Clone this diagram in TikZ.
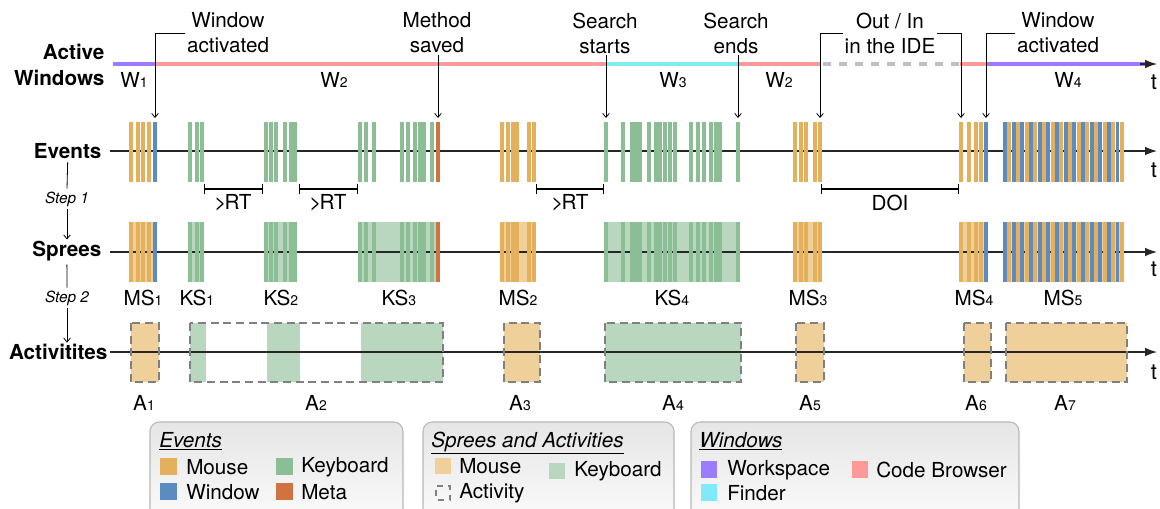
\documentclass[tikz,border=0pt]{standalone}
\usepackage{fontspec}
\setmainfont{TeX Gyre Heros}
\usetikzlibrary{arrows.meta}
\definecolor{mo}{HTML}{E5B05C}
\definecolor{kb}{HTML}{8BBE94}
\definecolor{wi}{HTML}{5B8BC0}
\definecolor{me}{HTML}{CF7340}
\definecolor{lmo}{HTML}{EFD09B}
\definecolor{lkb}{HTML}{B8D7BE}
\definecolor{ws}{HTML}{9B7BFF}
\definecolor{cb}{HTML}{FF9999}
\definecolor{fi}{HTML}{80EAF8}
\definecolor{gd}{HTML}{808080}
\newcommand\sbd[1]{{\fontsize{10.5}{10.5}\selectfont #1}}
\newcommand\grt{>\kern-1.5pt RT}
\def\evlist{129/4/mo,136/4/mo,141/4/mo,147/4/mo,153/4/wi,%
188/4/kb,195/4/kb,200/4/kb,%
264/4/kb,269/4/kb,274/4/kb,283/4/kb,289/8/kb,%
358/4/kb,364/4/kb,372/4/kb,%
400/4/kb,406/4/kb,413/4/kb,418/8/kb,430/4/kb,436/4/me,%
500/4/mo,506/4/mo,511/8/mo,527/4/mo,532/4/mo,%
604/4/kb,621/4/kb,630/12/kb,647/4/kb,654/8/kb,663/4/kb,668/4/kb,673/4/kb,689/4/kb,696/4/kb,702/4/kb,709/4/kb,714/8/kb,736/4/kb,%
793/4/mo,799/4/mo,804/4/mo,813/4/mo,818/4/mo,%
959/4/mo,967/4/mo,974/4/mo,979/4/mo,984/4/wi}
\newcommand\drawbars[1]{%
  \foreach \x/\w/\c in \evlist {\fill[\c] (\x,#1) rectangle ++(\w,60);}%
  \foreach \i in {0,...,27} {\pgfmathsetmacro\xx{1003+4.33*\i}%
    \ifodd\i \def\cc{mo}\else\def\cc{wi}\fi
    \fill[\cc] (\xx,#1) rectangle ++(3.9,60);}%
}
\begin{document}
\begin{tikzpicture}[x=0.75pt,y=-0.75pt,
  every node/.style={inner sep=1pt, font=\fontsize{15.5}{18.75}\selectfont},
  lab/.style={font=\fontsize{15.5}{19.5}\selectfont\bfseries, align=right},
  ann/.style={align=center},
  steplab/.style={font=\fontsize{11.5}{12}\selectfont\itshape, inner sep=2pt},
  axis/.style={line width=0.9pt, draw=black!85, -{Latex[length=9pt,width=6.5pt]}},
  conn/.style={line width=0.6pt, -{Straight Barb[length=3pt,width=5pt]}},
  brk/.style={line width=0.8pt, {Bar[width=7pt]}-{Bar[width=7pt]}},
  wline/.style={line width=3pt},
  act/.style={draw=gd, dash pattern=on 6pt off 3.5pt, line width=1.6pt},
  legbox/.style={draw=black!28, line width=0.8pt, rounded corners=7pt, top color=black!10, bottom color=white},
  sw/.style={minimum size=12.5pt, inner sep=0pt},
  tl/.style={font=\fontsize{16.5}{16.5}\selectfont},
  ltxt/.style={anchor=west, inner sep=0pt}
]
\useasboundingbox (0,0) rectangle (1160,508);
\clip (0,0) rectangle (1160,508);

% ---------- left labels ----------
\node[lab, anchor=east] (awl) at (106,65) {Active\\Windows};
\node[lab, anchor=east] (evl) at (103,151) {Events};
\node[lab, anchor=east] (spl) at (103,251) {Sprees};
\node[lab, anchor=east] (acl) at (109,352) {Activitites};
\node[steplab] (st1) at (67,199) {Step 1};
\node[steplab] (st2) at (67,298) {Step 2};
\draw[line width=0.6pt] (evl.south) ++(0,2) coordinate (e0) (e0) -- (st1.north);
\draw[conn] (st1.south) -- (st1.south |- spl.north);
\draw[line width=0.6pt] (spl.south) ++(0,2) coordinate (s0) (s0) -- (st2.north);
\draw[conn] (st2.south) -- (st2.south |- acl.north);

% ---------- active windows ----------
\draw[wline, ws] (113,64) -- (155,64);
\draw[wline, cb] (155,64) -- (606,64);
\draw[wline, fi] (606,64) -- (738,64);
\draw[wline, cb] (738,64) -- (821,64);
\draw[wline, black!25, dash pattern=on 6pt off 6pt] (823,64) -- (960,64);
\draw[wline, cb] (960,64) -- (986,64);
\draw[wline, ws] (986,64) -- (1146,64);
\draw[axis] (1140,64) -- (1157,64);
\node (w1) at (134,80) {W\sbd{1}};
\node (w2) at (334,80) {W\sbd{2}};
\node (w3) at (673,80) {W\sbd{3}};
\node (w2b) at (779,80) {W\sbd{2}};
\node (w4) at (1068,80) {W\sbd{4}};
\node[tl] (t0) at (1154,82) {t};

% ---------- annotations ----------
\node[ann] (a1) at (228,33) {Window\\activated};
\node[ann] (a2) at (437,33) {Method\\saved};
\node[ann] (a3) at (605,33) {Search\\starts};
\node[ann] (a4) at (736,33) {Search\\ends};
\node[ann] (a5) at (890,33) {Out / In\\in the IDE};
\node[ann] (a6) at (1058,33) {Window\\activated};
\coordinate (e1) at (155,118);
\coordinate (e2) at (438,118);
\coordinate (e3) at (606,118);
\coordinate (e4) at (738,118);
\coordinate (e5) at (820,118);
\coordinate (e6) at (961,118);
\coordinate (e7) at (986,118);
\draw[conn] (a1.west) -| (e1);
\draw[conn] (a2.south -| e2) -- (e2);
\draw[conn] (a3.south -| e3) -- (e3);
\draw[conn] (a4.south -| e4) -- (e4);
\draw[conn] (a5.west) -| (e5);
\draw[conn] (a5.east) -| (e6);
\draw[conn] (a6.west) -| (e7);

% ---------- events ----------
\draw[axis] (110,151) -- (1157,151);
\drawbars{122}
\node[tl] (t1) at (1154,170) {t};
\draw[brk] (204,189) -- (263,189);
\node (rt1) at (233,203) {\grt};
\draw[brk] (299,189) -- (358,189);
\node (rt2) at (328,203) {\grt};
\draw[brk] (536,189) -- (604,189);
\node (rt3) at (570,203) {\grt};
\draw[brk] (821,189) -- (959,189);
\node (doi) at (890,203) {DOI};

% ---------- sprees ----------
\foreach \a/\b/\c in {129/157/lmo,188/204/lkb,264/297/lkb,358/440/lkb,500/536/lmo,604/740/lkb,793/822/lmo,959/988/lmo,1003/1124/lmo}
  \fill[\c] (\a,222) rectangle (\b,282);
\draw[axis] (110,252) -- (1157,252);
\drawbars{222}
\node[tl] (t2) at (1154,269) {t};
\node (ms1) at (143,298) {MS\sbd{1}};
\node (ks1) at (197,298) {KS\sbd{1}};
\node (ks2) at (281,298) {KS\sbd{2}};
\node (ks3) at (399,298) {KS\sbd{3}};
\node (ms2) at (518,298) {MS\sbd{2}};
\node (ks4) at (672,298) {KS\sbd{4}};
\node (ms3) at (808,298) {MS\sbd{3}};
\node (ms4) at (974,298) {MS\sbd{4}};
\node (ms5) at (1063,298) {MS\sbd{5}};

% ---------- activities ----------
\foreach \a/\b/\c in {131/159/lmo,190/206/lkb,267/300/lkb,361/443/lkb,504/540/lmo,605/741/lkb,796/824/lmo,964/991/lmo,1006/1127/lmo}
  \fill[\c] (\a,323) rectangle (\b,382);
\draw[axis] (110,352) -- (1157,352);
\foreach \a/\b in {131/159,190/443,504/540,605/741,796/824,964/991,1006/1127}
  \draw[act] (\a,323) rectangle (\b,382);
\node[tl] (t3) at (1154,372) {t};
\node (ac1) at (144,403) {A\sbd{1}};
\node (ac2) at (316,403) {A\sbd{2}};
\node (ac3) at (520,403) {A\sbd{3}};
\node (ac4) at (673,403) {A\sbd{4}};
\node (ac5) at (810,403) {A\sbd{5}};
\node (ac6) at (976,403) {A\sbd{6}};
\node (ac7) at (1065,403) {A\sbd{7}};

% ---------- legend ----------
\draw[legbox] (150,422) rectangle (403,540);
\draw[legbox] (423,422) rectangle (674,540);
\draw[legbox] (691,422) rectangle (1019,540);

\node[anchor=base west, inner sep=0pt] (lh1) at (159,447) {\underline{\textit{Events}}};
\node[sw, fill=mo] (q1) at (168.5,466.5) {};
\node[ltxt] (lq1) at (186,467) {Mouse};
\node[sw, fill=kb] (q2) at (284.5,466.5) {};
\node[ltxt] (lq2) at (301,467) {Keyboard};
\node[sw, fill=wi] (q3) at (168.5,491.5) {};
\node[ltxt] (lq3) at (186,492) {Window};
\node[sw, fill=me] (q4) at (284.5,491.5) {};
\node[ltxt] (lq4) at (301,492) {Meta};

\node[anchor=base west, inner sep=0pt] (lh2) at (431,447) {\underline{\textit{Sprees and Activities}}};
\node[sw, fill=lmo] (q5) at (443,466) {};
\node[ltxt] (lq5) at (459,466) {Mouse};
\node[sw, fill=lkb] (q6) at (557,471) {};
\node[ltxt] (lq6) at (574,471) {Keyboard};
\node[sw, draw=gd, line width=1.3pt, dash pattern=on 4.5pt off 4pt, dash phase=-2pt, minimum size=11pt] (q7) at (443,493) {};
\node[ltxt] (lq7) at (459,493) {Activity};

\node[anchor=base west, inner sep=0pt] (lh3) at (699,447) {\underline{\textit{Windows}}};
\node[sw, fill=ws] (q8) at (709,469.5) {};
\node[ltxt] (lq8) at (727,470) {Workspace};
\node[sw, fill=cb] (q9) at (860,469.5) {};
\node[ltxt] (lq9) at (876,470) {Code Browser};
\node[sw, fill=fi] (q10) at (709,492.5) {};
\node[ltxt] (lq10) at (727,493) {Finder};
\end{tikzpicture}
\end{document}
